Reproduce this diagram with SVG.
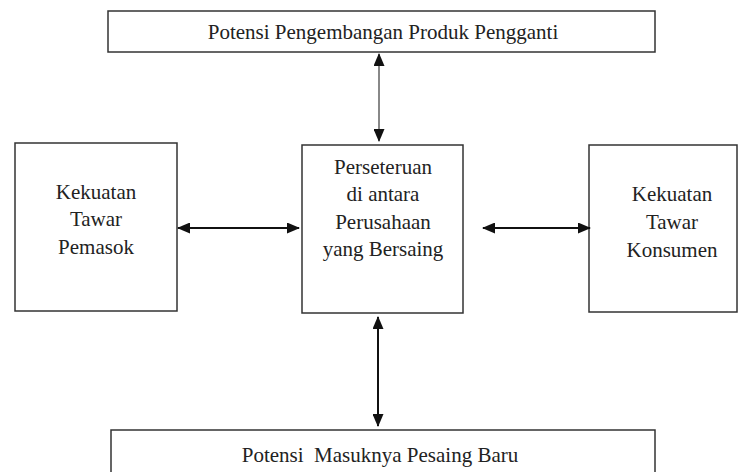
<svg xmlns="http://www.w3.org/2000/svg" width="739" height="472" viewBox="0 0 739 472">
<style>
.box{fill:#fff;stroke:#333;stroke-width:1.5}
.t{font-family:"Liberation Serif","Times New Roman",serif;font-size:21px;fill:#222;text-anchor:middle}
.c{stroke:#111;stroke-width:2;fill:none}
.g{stroke:#888;stroke-width:2;fill:none}
</style>
<defs>
<marker id="ah" viewBox="0 0 13 11" refX="12" refY="5.5" markerWidth="13" markerHeight="11" markerUnits="userSpaceOnUse" orient="auto-start-reverse">
<path d="M0,0 L13,5.5 L0,11 Z" fill="#111"/>
</marker>
</defs>
<rect width="739" height="472" fill="#fff"/>
<g id="top">
<rect class="box" x="108" y="11" width="547" height="41"/>
<text class="t" x="383" y="39">Potensi Pengembangan Produk Pengganti</text>
</g>
<g id="left">
<rect class="box" x="15" y="143" width="162" height="168"/>
<text class="t" x="96" y="199">Kekuatan</text>
<text class="t" x="96" y="226">Tawar</text>
<text class="t" x="96" y="254">Pemasok</text>
</g>
<g id="center">
<rect class="box" x="302" y="145" width="161" height="168"/>
<text class="t" x="383" y="174">Perseteruan</text>
<text class="t" x="383" y="201">di antara</text>
<text class="t" x="383" y="229">Perusahaan</text>
<text class="t" x="383" y="256">yang Bersaing</text>
</g>
<g id="right">
<rect class="box" x="589" y="145" width="148" height="167"/>
<text class="t" x="672" y="201">Kekuatan</text>
<text class="t" x="672" y="229">Tawar</text>
<text class="t" x="672" y="257">Konsumen</text>
</g>
<g id="bottom">
<rect class="box" x="111" y="430" width="544" height="45"/>
<text class="t" x="380" y="462">Potensi&#160; Masuknya Pesaing Baru</text>
</g>
<g id="connectors">
<line class="g" x1="379" y1="54" x2="379" y2="141" marker-start="url(#ah)" marker-end="url(#ah)"/>
<line class="c" x1="178" y1="228" x2="299" y2="228" marker-start="url(#ah)" marker-end="url(#ah)"/>
<line class="c" x1="483" y1="228" x2="590" y2="228" marker-start="url(#ah)" marker-end="url(#ah)"/>
<line class="c" x1="378" y1="317" x2="378" y2="426" marker-start="url(#ah)" marker-end="url(#ah)"/>
</g>
</svg>
